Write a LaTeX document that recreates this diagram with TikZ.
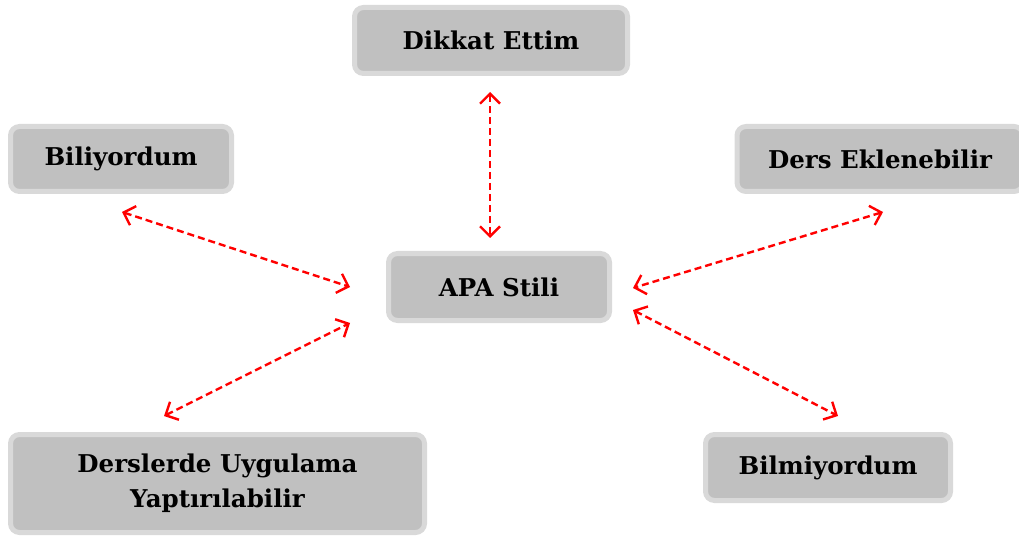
\documentclass[tikz,border=0pt]{standalone}
\usepackage{fontspec}
\setmainfont{DejaVu Serif}
\usetikzlibrary{arrows.meta}
\definecolor{boxfill}{HTML}{C0C0C0}
\definecolor{boxline}{HTML}{D9D9D9}
\definecolor{arr}{HTML}{FF0000}
\begin{document}
\begin{tikzpicture}[x=1pt,y=-1pt,
  box/.style={draw=boxline, line width=5pt, fill=boxfill, rounded corners=9pt,
    inner sep=0pt, align=center, font=\bfseries\fontsize{24.5}{35}\selectfont},
  link/.style={draw=arr, line width=2.4pt, dash pattern=on 7pt off 4pt,
    {Straight Barb[length=10pt,width=20pt,line width=2.4pt]}-{Straight Barb[length=10pt,width=20pt,line width=2.4pt]}}]
\useasboundingbox (0,0) rectangle (1019,537);
\node[box, minimum width=273pt, minimum height=66pt] (dikkat) at (491,40.5) {Dikkat Ettim};
\node[box, minimum width=221pt, minimum height=65pt] (bili) at (121,159) {Biliyordum};
\node[box, minimum width=286pt, minimum height=65pt] (ders) at (880,159) {Ders Eklenebilir};
\node[box, minimum width=221pt, minimum height=67pt] (apa) at (499,287) {APA Stili};
\node[box, minimum width=414pt, minimum height=98pt] (uyg) at (217.5,483.5) {Derslerde Uygulama\\Yaptırılabilir};
\node[box, minimum width=245pt, minimum height=66pt] (bilmi) at (828,467.5) {Bilmiyordum};
\coordinate (d1) at (490,92);
\coordinate (d2) at (490,238);
\coordinate (b1) at (122,212);
\coordinate (b2) at (350,287);
\coordinate (u1) at (164,416);
\coordinate (u2) at (350,323);
\coordinate (e1) at (883,212);
\coordinate (e2) at (633,288);
\coordinate (m1) at (633,310);
\coordinate (m2) at (838,416);
\draw[link] (d1) -- (d2);
\draw[link] (b1) -- (b2);
\draw[link] (u1) -- (u2);
\draw[link] (e1) -- (e2);
\draw[link] (m1) -- (m2);
\end{tikzpicture}
\end{document}
